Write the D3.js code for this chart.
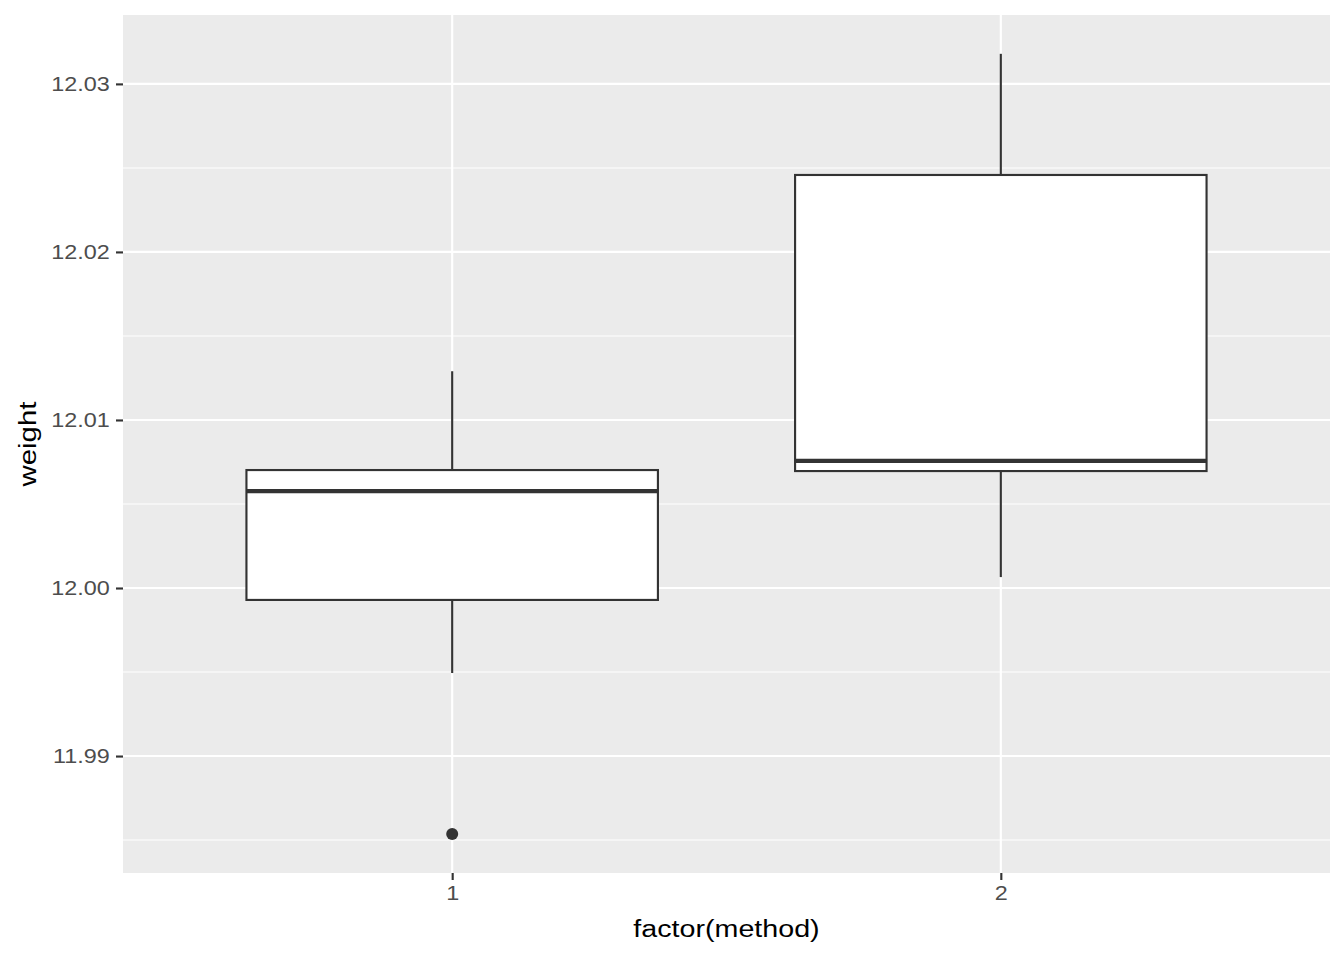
<!DOCTYPE html>
<html><head><meta charset="utf-8">
<script src="https://cdn.jsdelivr.net/npm/d3@7"></script>
<style>body{margin:0;background:#fff;}svg{display:block;font-family:"Liberation Sans",Arial,sans-serif;}</style>
</head><body>
<svg id="c" width="1344" height="960"></svg>
<script>
const categories = ["1", "2"];
const whiskerLow = [11.99494, 12.00065];
const q1 = [11.99929, 12.00696];
const median = [12.00577, 12.00756];
const q3 = [12.00702, 12.02458];
const whiskerHigh = [12.0129, 12.03179];
const outliers = [{cat: "1", value: 11.98536}];
const yTicks = [11.99, 12.00, 12.01, 12.02, 12.03];
const yMinor = [11.985, 11.995, 12.005, 12.015, 12.025];

const svg = d3.select("#c");
const L = 123, R = 1330, T = 15, B = 873;
const x = d3.scalePoint().domain(categories).range([L, R]).padding(0.6);
const step = x.step();
const y = d3.scaleLinear().domain([11.98304, 12.0341]).range([B, T]);
const SX = 1.2;

svg.append("rect").attr("x", L).attr("y", T).attr("width", R - L).attr("height", B - T).attr("fill", "#EBEBEB");
const g = svg.append("g");
yMinor.forEach(v => g.append("line").attr("x1", L).attr("x2", R).attr("y1", y(v)).attr("y2", y(v)).attr("stroke", "#fff").attr("stroke-width", 1.07));
yTicks.forEach(v => g.append("line").attr("x1", L).attr("x2", R).attr("y1", y(v)).attr("y2", y(v)).attr("stroke", "#fff").attr("stroke-width", 2.13));
categories.forEach(c => g.append("line").attr("x1", x(c)).attr("x2", x(c)).attr("y1", T).attr("y2", B).attr("stroke", "#fff").attr("stroke-width", 2.13));

const col = "#333333";
const bw = step * 0.75;
categories.forEach((c, i) => {
  const cx = x(c);
  g.append("line").attr("x1", cx).attr("x2", cx).attr("y1", y(whiskerHigh[i])).attr("y2", y(q3[i])).attr("stroke", col).attr("stroke-width", 2.13);
  g.append("line").attr("x1", cx).attr("x2", cx).attr("y1", y(q1[i])).attr("y2", y(whiskerLow[i])).attr("stroke", col).attr("stroke-width", 2.13);
  g.append("rect").attr("x", cx - bw / 2).attr("y", y(q3[i])).attr("width", bw).attr("height", y(q1[i]) - y(q3[i]))
    .attr("fill", "#fff").attr("stroke", col).attr("stroke-width", 2.13);
  g.append("line").attr("x1", cx - bw / 2).attr("x2", cx + bw / 2).attr("y1", y(median[i])).attr("y2", y(median[i])).attr("stroke", col).attr("stroke-width", 4.27);
});
outliers.forEach(o => g.append("circle").attr("cx", x(o.cat)).attr("cy", y(o.value)).attr("r", 6).attr("fill", col));

// axes
const yAxis = svg.append("g").attr("transform", `translate(${L},0)`)
  .call(d3.axisLeft(y).tickValues(yTicks).tickFormat(d3.format(".2f")).tickSize(7).tickPadding(4));
yAxis.select(".domain").remove();
yAxis.selectAll(".tick line").attr("stroke", col).attr("stroke-width", 2.13);
yAxis.selectAll(".tick text").attr("fill", "#4D4D4D").attr("font-size", 19.5).attr("font-family", "Liberation Sans, Arial, sans-serif")
  .attr("transform", `scale(${SX},1)`);

const xAxis = svg.append("g").attr("transform", `translate(0,${B})`)
  .call(d3.axisBottom(x).tickSize(7).tickPadding(6));
xAxis.select(".domain").remove();
xAxis.selectAll(".tick line").attr("stroke", col).attr("stroke-width", 2.13);
xAxis.selectAll(".tick text").attr("fill", "#4D4D4D").attr("font-size", 19.5).attr("font-family", "Liberation Sans, Arial, sans-serif")
  .attr("transform", `scale(${SX},1)`);

svg.append("text").attr("transform", `translate(${(L + R) / 2},937) scale(1.17,1)`).attr("text-anchor", "middle").attr("font-size", 24.5).attr("fill", "#000").text("factor(method)");
svg.append("text").attr("transform", `translate(36,${(T + B) / 2}) rotate(-90) scale(1.2,1)`).attr("text-anchor", "middle").attr("font-size", 24.5).attr("fill", "#000").text("weight");
</script>
</body></html>
